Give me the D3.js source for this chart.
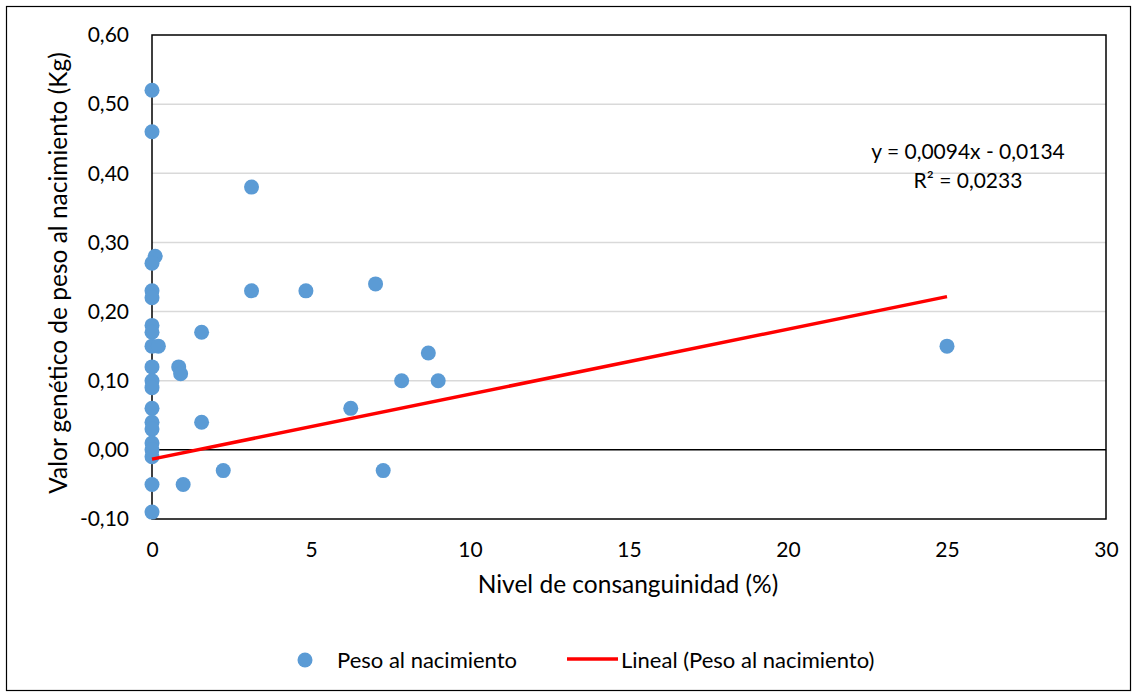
<!DOCTYPE html>
<html>
<head>
<meta charset="utf-8">
<script src="https://cdn.jsdelivr.net/npm/d3@7"></script>
<style>
  body { margin: 0; background: #fff; }
  text { font-family: Lato, "Open Sans", sans-serif; fill: #000; }
</style>
</head>
<body>
<div id="chart"></div>
<script>
// nivel de consanguinidad (%) y valor genetico (Kg)
var inbreeding = [0, 0, 3.13, 0.1, 0, 0, 3.13, 4.84, 7.03, 0,
                  0, 0, 1.56, 0, 0.2, 25, 8.69, 0, 0.84, 0.9,
                  0, 7.85, 9.0, 0, 0, 6.25, 0, 1.56, 0, 0,
                  0, 0, 2.24, 7.27, 0, 0.98, 0];
var breedValue = [0.52, 0.46, 0.38, 0.28, 0.27, 0.23, 0.23, 0.23, 0.24, 0.22,
                  0.18, 0.17, 0.17, 0.15, 0.15, 0.15, 0.14, 0.12, 0.12, 0.11,
                  0.10, 0.10, 0.10, 0.09, 0.06, 0.06, 0.04, 0.04, 0.03, 0.01,
                  0.00, -0.01, -0.03, -0.03, -0.05, -0.05, -0.09];
// linea de tendencia (extremos del ajuste lineal)
var trendX = [0, 25];
var trendY = [-0.0134, 0.2216];
var xTicks = [0, 5, 10, 15, 20, 25, 30];
var yTicks = [-0.1, 0, 0.1, 0.2, 0.3, 0.4, 0.5, 0.6];

var svgWidth = 1136;
var svgHeight = 694;
var margin = {top: 35, right: 30, bottom: 175, left: 152};
var chartWidth = 1106 - margin.left;
var chartHeight = 519 - margin.top;

var svg = d3.select("#chart")
  .append("svg")
  .attr("width", svgWidth)
  .attr("height", svgHeight);

// marco exterior
svg.append("rect")
  .attr("x", 6.5).attr("y", 6.5)
  .attr("width", 1124).attr("height", 684)
  .attr("fill", "none")
  .attr("stroke", "#000")
  .attr("stroke-width", 1.2);

var chartGroup = svg.append("g")
  .attr("transform", `translate(${margin.left},${margin.top})`);

var xScale = d3.scaleLinear().domain([0, 30]).range([0, chartWidth]);
var yScale = d3.scaleLinear().domain([-0.1, 0.6]).range([chartHeight, 0]);

var fmtY = d => d3.format(".2f")(d).replace(".", ",").replace("−", "-");

// lineas de cuadricula
chartGroup.selectAll("line.grid")
  .data(yTicks.filter(t => t > 0.05 && t < 0.55))
  .enter().append("line")
  .attr("x1", 0).attr("x2", chartWidth)
  .attr("y1", d => yScale(d)).attr("y2", d => yScale(d))
  .attr("stroke", "#d9d9d9")
  .attr("stroke-width", 1.5);

// borde del area de trazado
chartGroup.append("rect")
  .attr("width", chartWidth).attr("height", chartHeight)
  .attr("fill", "none")
  .attr("stroke", "#000")
  .attr("stroke-width", 1.5);

chartGroup.append("line")
  .attr("x1", 0).attr("x2", chartWidth)
  .attr("y1", yScale(0)).attr("y2", yScale(0))
  .attr("stroke", "#000")
  .attr("stroke-width", 1.5);

var yAxis = chartGroup.append("g")
  .call(d3.axisLeft(yScale).tickValues(yTicks).tickSize(0).tickPadding(23).tickFormat(fmtY));
yAxis.select(".domain").remove();
yAxis.selectAll("text").style("font-size", "21px").attr("fill", "#000");

var xAxis = chartGroup.append("g")
  .attr("transform", `translate(0, ${chartHeight})`)
  .call(d3.axisBottom(xScale).tickValues(xTicks).tickSize(0).tickPadding(23).tickFormat(d3.format("d")));
xAxis.select(".domain").remove();
xAxis.selectAll("text").style("font-size", "21px").attr("fill", "#000");

// puntos
chartGroup.selectAll("circle.dot")
  .data(inbreeding.map((x, i) => ({x: x, y: breedValue[i]})))
  .enter().append("circle")
  .attr("class", "dot")
  .attr("cx", d => xScale(d.x))
  .attr("cy", d => yScale(d.y))
  .attr("r", 7.5)
  .attr("fill", "#5b9bd5");

// tendencia
chartGroup.append("line")
  .attr("x1", xScale(trendX[0])).attr("y1", yScale(trendY[0]))
  .attr("x2", xScale(trendX[1])).attr("y2", yScale(trendY[1]))
  .attr("stroke", "#ff0000")
  .attr("stroke-width", 3.5);

chartGroup.append("text")
  .attr("x", 968 - margin.left).attr("y", 159 - margin.top)
  .attr("text-anchor", "middle")
  .style("font-size", "21px")
  .text("y = 0,0094x - 0,0134");
chartGroup.append("text")
  .attr("x", 968 - margin.left).attr("y", 188 - margin.top)
  .attr("text-anchor", "middle")
  .style("font-size", "21px")
  .text("R² = 0,0233");

// titulos de ejes
svg.append("text")
  .attr("x", 628).attr("y", 593)
  .attr("text-anchor", "middle")
  .style("font-size", "24.5px")
  .text("Nivel de consanguinidad (%)");

svg.append("text")
  .attr("transform", "rotate(-90)")
  .attr("x", -273).attr("y", 67)
  .attr("text-anchor", "middle")
  .style("font-size", "24.5px")
  .text("Valor genético de peso al nacimiento (Kg)");

// leyenda
var legend = svg.append("g");
legend.append("circle").attr("cx", 305).attr("cy", 660).attr("r", 7.5).attr("fill", "#5b9bd5");
legend.append("text").attr("x", 337).attr("y", 668).style("font-size", "22px").text("Peso al nacimiento");
legend.append("line").attr("x1", 567).attr("x2", 618).attr("y1", 659).attr("y2", 659)
  .attr("stroke", "#ff0000").attr("stroke-width", 3.5);
legend.append("text").attr("x", 621).attr("y", 668).style("font-size", "22px").text("Lineal (Peso al nacimiento)");
</script>
</body>
</html>
